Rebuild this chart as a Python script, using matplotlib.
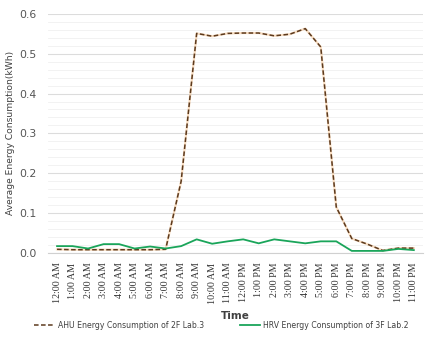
import numpy as np
import matplotlib
matplotlib.use("Agg")
import matplotlib.pyplot as plt
from matplotlib.lines import Line2D
from matplotlib.ticker import MultipleLocator, FormatStrFormatter

# hourly averages
hours = ["12:00 AM", "1:00 AM", "2:00 AM", "3:00 AM", "4:00 AM", "5:00 AM",
         "6:00 AM", "7:00 AM", "8:00 AM", "9:00 AM", "10:00 AM", "11:00 AM",
         "12:00 PM", "1:00 PM", "2:00 PM", "3:00 PM", "4:00 PM", "5:00 PM",
         "6:00 PM", "7:00 PM", "8:00 PM", "9:00 PM", "10:00 PM", "11:00 PM"]
ahu_2f_lab3 = [0.009, 0.008, 0.008, 0.008, 0.008, 0.008, 0.008, 0.009,
               0.180, 0.551, 0.544, 0.551, 0.552, 0.552, 0.545, 0.549,
               0.563, 0.517, 0.115, 0.036, 0.022, 0.006, 0.012, 0.012]
hrv_3f_lab2 = [0.017, 0.017, 0.011, 0.022, 0.022, 0.011, 0.016, 0.011,
               0.017, 0.034, 0.023, 0.029, 0.034, 0.024, 0.034, 0.029,
               0.024, 0.029, 0.029, 0.005, 0.005, 0.005, 0.010, 0.007]

ahu_label = "AHU Energy Consumption of 2F Lab.3"
hrv_label = "HRV Energy Consumption of 3F Lab.2"

ahu_color = "#5c3a1e"
ahu_halo = "#f2b77a"
hrv_color = "#1aa55a"

fig = plt.figure(figsize=(4.34, 3.39), dpi=100)
ax = fig.add_axes([0.11, 0.254, 0.865, 0.705])

x = np.arange(len(hours))
ax.plot(x, ahu_2f_lab3, color=ahu_halo, lw=1.6, alpha=0.45, zorder=2)
ax.plot(x, ahu_2f_lab3, color=ahu_color, lw=1.1, ls=(0, (3, 1.6)), zorder=3)
ax.plot(x, hrv_3f_lab2, color=hrv_color, lw=1.3, zorder=4)

ax.set_xlim(-0.6, len(hours) - 0.4)
ax.set_ylim(0, 0.6)
ax.yaxis.set_major_locator(MultipleLocator(0.1))
ax.yaxis.set_minor_locator(MultipleLocator(0.02))
ax.grid(which="major", axis="y", color="#dcdcdc", lw=0.8)
ax.grid(which="minor", axis="y", color="#f0f0f0", lw=0.6)
ax.set_axisbelow(True)

for s in ["top", "right", "left"]:
    ax.spines[s].set_visible(False)
ax.spines["bottom"].set_color("#d0d0d0")
ax.spines["bottom"].set_linewidth(0.8)

ax.set_xticks(x)
ax.set_xticklabels(hours, rotation=90, family="Liberation Serif",
                   fontsize=7.2, color="#333333")
ax.tick_params(axis="x", length=0, pad=7)
ax.tick_params(axis="y", which="both", length=0, labelsize=7.8,
               labelcolor="#555555", pad=8)
ax.yaxis.set_major_formatter(FormatStrFormatter("%.1f"))

ax.set_ylabel("Average Energy Consumption(kWh)", fontsize=6.6,
              color="#404040", labelpad=3)
ax.set_xlabel("Time", fontsize=7.5, color="#404040", fontweight="bold",
              labelpad=5)

handles = [Line2D([], [], color=ahu_color, lw=1.1, ls=(0, (3, 1.6))),
           Line2D([], [], color=hrv_color, lw=1.3)]
fig.legend(handles, [ahu_label, hrv_label], loc="center",
           bbox_to_anchor=(0.51, 0.04), ncol=2, frameon=False,
           fontsize=5.6, handlelength=2.6, columnspacing=4.6,
           handletextpad=0.4, labelcolor="#404040")

fig.savefig("out.png", dpi=100)
